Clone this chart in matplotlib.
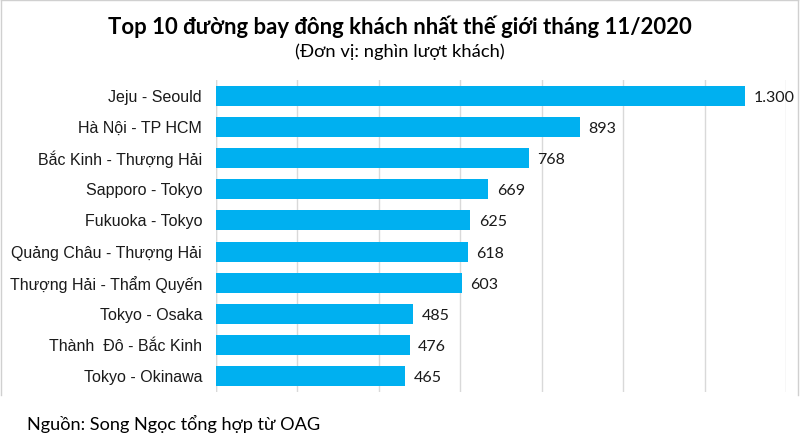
import matplotlib.pyplot as plt
from matplotlib.lines import Line2D

routes = ["Jeju - Seould", "Hà Nội - TP HCM", "Bắc Kinh - Thượng Hải",
          "Sapporo - Tokyo", "Fukuoka - Tokyo", "Quảng Châu - Thượng Hải",
          "Thượng Hải - Thẩm Quyến", "Tokyo - Osaka", "Thành  Đô - Bắc Kinh",
          "Tokyo - Okinawa"]
passengers = [1300, 893, 768, 669, 625, 618, 603, 485, 476, 465]
value_labels = ["1.300", "893", "768", "669", "625", "618", "603", "485", "476", "465"]

BAR_COLOR = "#00B0F0"
GRID_COLOR = "#D9D9D9"

fig = plt.figure(figsize=(8, 4.45), dpi=100)
ax = fig.add_axes([0.27, 0.1191, 0.7125, 0.7011])

y = list(range(len(routes)))
ax.barh(y, passengers, height=0.64, color=BAR_COLOR, zorder=2)
ax.set_ylim(len(routes) - 0.5, -0.5)
ax.set_xlim(0, 1400)
ax.set_xticks(range(0, 1401, 200))
ax.tick_params(axis="x", length=0, labelbottom=False)
ax.tick_params(axis="y", length=0, pad=10)
ax.set_yticks(y)
ax.set_yticklabels(routes, fontfamily="Liberation Sans", fontsize=11.5, color="#1a1a1a")
ax.grid(axis="x", color=GRID_COLOR, linewidth=1, zorder=0)
for s in ax.spines.values():
    s.set_visible(False)
ax.axvline(0, color=GRID_COLOR, linewidth=1, zorder=1)

for yi, v, lab in zip(y, passengers, value_labels):
    ax.annotate(lab, (v, yi), xytext=(6, -1.5), textcoords="offset points",
                va="center", ha="left", fontfamily="Lato", fontsize=11.5,
                color="#1a1a1a")

fig.text(0.5, 0.94, "Top 10 đường bay đông khách nhất thế giới tháng 11/2020",
         ha="center", va="center", fontfamily="Lato", fontweight="bold",
         fontsize=15.9, color="#000000")
fig.text(0.5, 0.883, "(Đơn vị: nghìn lượt khách)", ha="center", va="center",
         fontfamily="Lato", fontsize=13.2, color="#000000")
fig.text(0.034, 0.047, "Nguồn: Song Ngọc tổng hợp từ OAG", ha="left", va="center",
         fontfamily="Lato", fontsize=13.1, color="#000000")

# light frame round the chart block
frame_bottom = 1 - 395 / 445
for xs, ys in [([0.001, 0.001], [frame_bottom, 0.999]),
               ([0.001, 0.998], [0.999, 0.999]),
               ([0.998, 0.998], [frame_bottom, 0.999])]:
    fig.add_artist(Line2D(xs, ys, color="#D0D0D0", linewidth=1))

fig.savefig("out.png", dpi=100)
